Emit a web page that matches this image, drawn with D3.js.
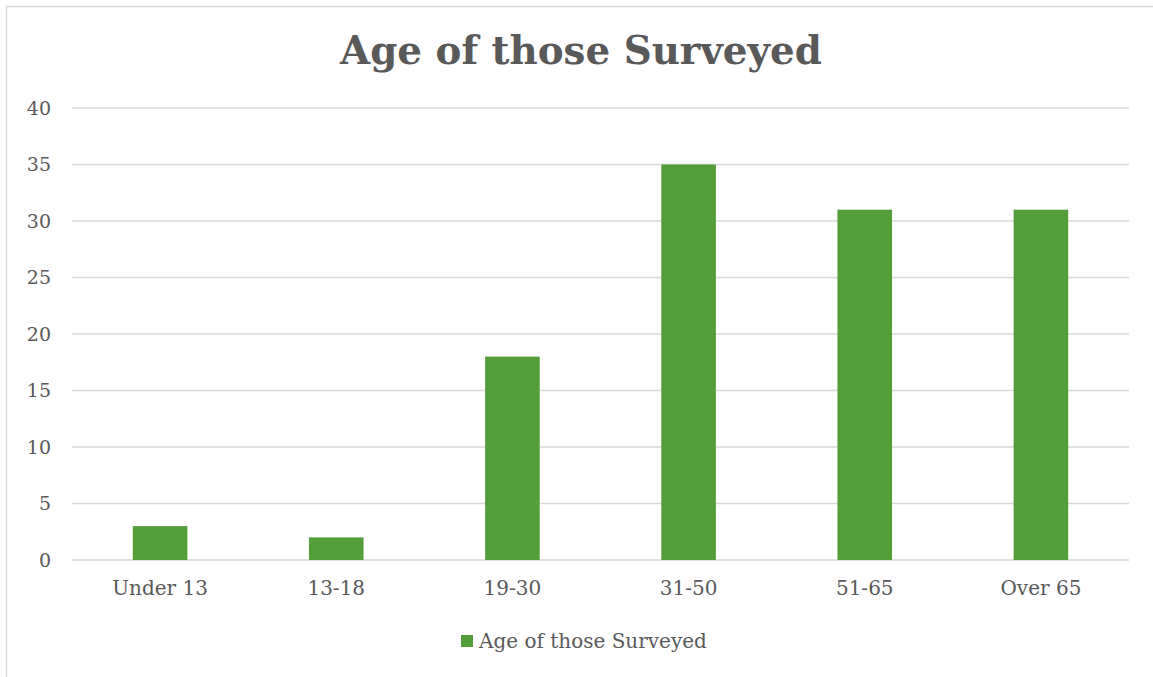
<!DOCTYPE html>
<html>
<head>
<meta charset="utf-8">
<script src="https://cdn.jsdelivr.net/npm/d3@7/dist/d3.min.js"></script>
<style>
  html, body { margin: 0; padding: 0; background: #fff; }
  svg { display: block; }
  text { font-family: "DejaVu Serif", Georgia, serif; fill: #595959; }
</style>
</head>
<body>
<svg id="chart" width="1153" height="677"></svg>
<script>
// Survey respondents by age group
const categories = ["Under 13", "13-18", "19-30", "31-50", "51-65", "Over 65"];
const counts = [3, 2, 18, 35, 31, 31];
const yTicks = [0, 5, 10, 15, 20, 25, 30, 35, 40];
const seriesName = "Age of those Surveyed";
const chartTitle = "Age of those Surveyed";

const W = 1153, H = 677;
const margin = { left: 72, right: 24, top: 108, bottom: 117 };
const barColor = "#549E39";
const gridColor = "#D9D9D9";

const svg = d3.select("#chart");

// outer chart frame
svg.append("rect")
  .attr("x", 6.5).attr("y", 6.5)
  .attr("width", W + 20).attr("height", H + 20)
  .attr("fill", "none").attr("stroke", "#D9D9D9").attr("stroke-width", 1.5);

const x = d3.scaleBand()
  .domain(categories)
  .range([margin.left, W - margin.right])
  .paddingInner(0.69).paddingOuter(0.345);

const y = d3.scaleLinear()
  .domain([0, 40])
  .range([H - margin.bottom, margin.top]);

// horizontal gridlines
svg.append("g")
  .selectAll("line")
  .data(yTicks)
  .join("line")
  .attr("x1", margin.left).attr("x2", W - margin.right)
  .attr("y1", d => y(d)).attr("y2", d => y(d))
  .attr("stroke", gridColor).attr("stroke-width", 1.5);

// y axis labels
const yAxis = d3.axisLeft(y).tickValues(yTicks).tickSize(0).tickPadding(0);
const gy = svg.append("g")
  .attr("transform", `translate(${margin.left - 21},0)`)
  .call(yAxis);
gy.select(".domain").remove();
gy.selectAll("text")
  .attr("font-family", "DejaVu Serif, serif")
  .attr("font-size", 19)
  .attr("fill", "#595959");

// bars
svg.append("g")
  .selectAll("rect")
  .data(categories.map((c, i) => ({ c, v: counts[i] })))
  .join("rect")
  .attr("x", d => x(d.c))
  .attr("width", x.bandwidth())
  .attr("y", d => y(d.v))
  .attr("height", d => y(0) - y(d.v))
  .attr("fill", barColor);

// category labels
const xAxis = d3.axisBottom(x).tickSize(0).tickPadding(0);
const gx = svg.append("g")
  .attr("transform", `translate(0,${y(0) + 21})`)
  .call(xAxis);
gx.select(".domain").remove();
gx.selectAll("text")
  .attr("font-family", "DejaVu Serif, serif")
  .attr("font-size", 20)
  .attr("fill", "#595959");

// title
svg.append("text")
  .attr("x", 581).attr("y", 64)
  .attr("text-anchor", "middle")
  .attr("font-size", 38.8)
  .attr("font-weight", "bold")
  .text(chartTitle);

// legend
const legend = svg.append("g").attr("transform", "translate(461,635)");
legend.append("rect")
  .attr("x", 0).attr("y", 0).attr("width", 12).attr("height", 12)
  .attr("fill", barColor);
legend.append("text")
  .attr("x", 18).attr("y", 13)
  .attr("font-size", 20)
  .text(seriesName);
</script>
</body>
</html>
